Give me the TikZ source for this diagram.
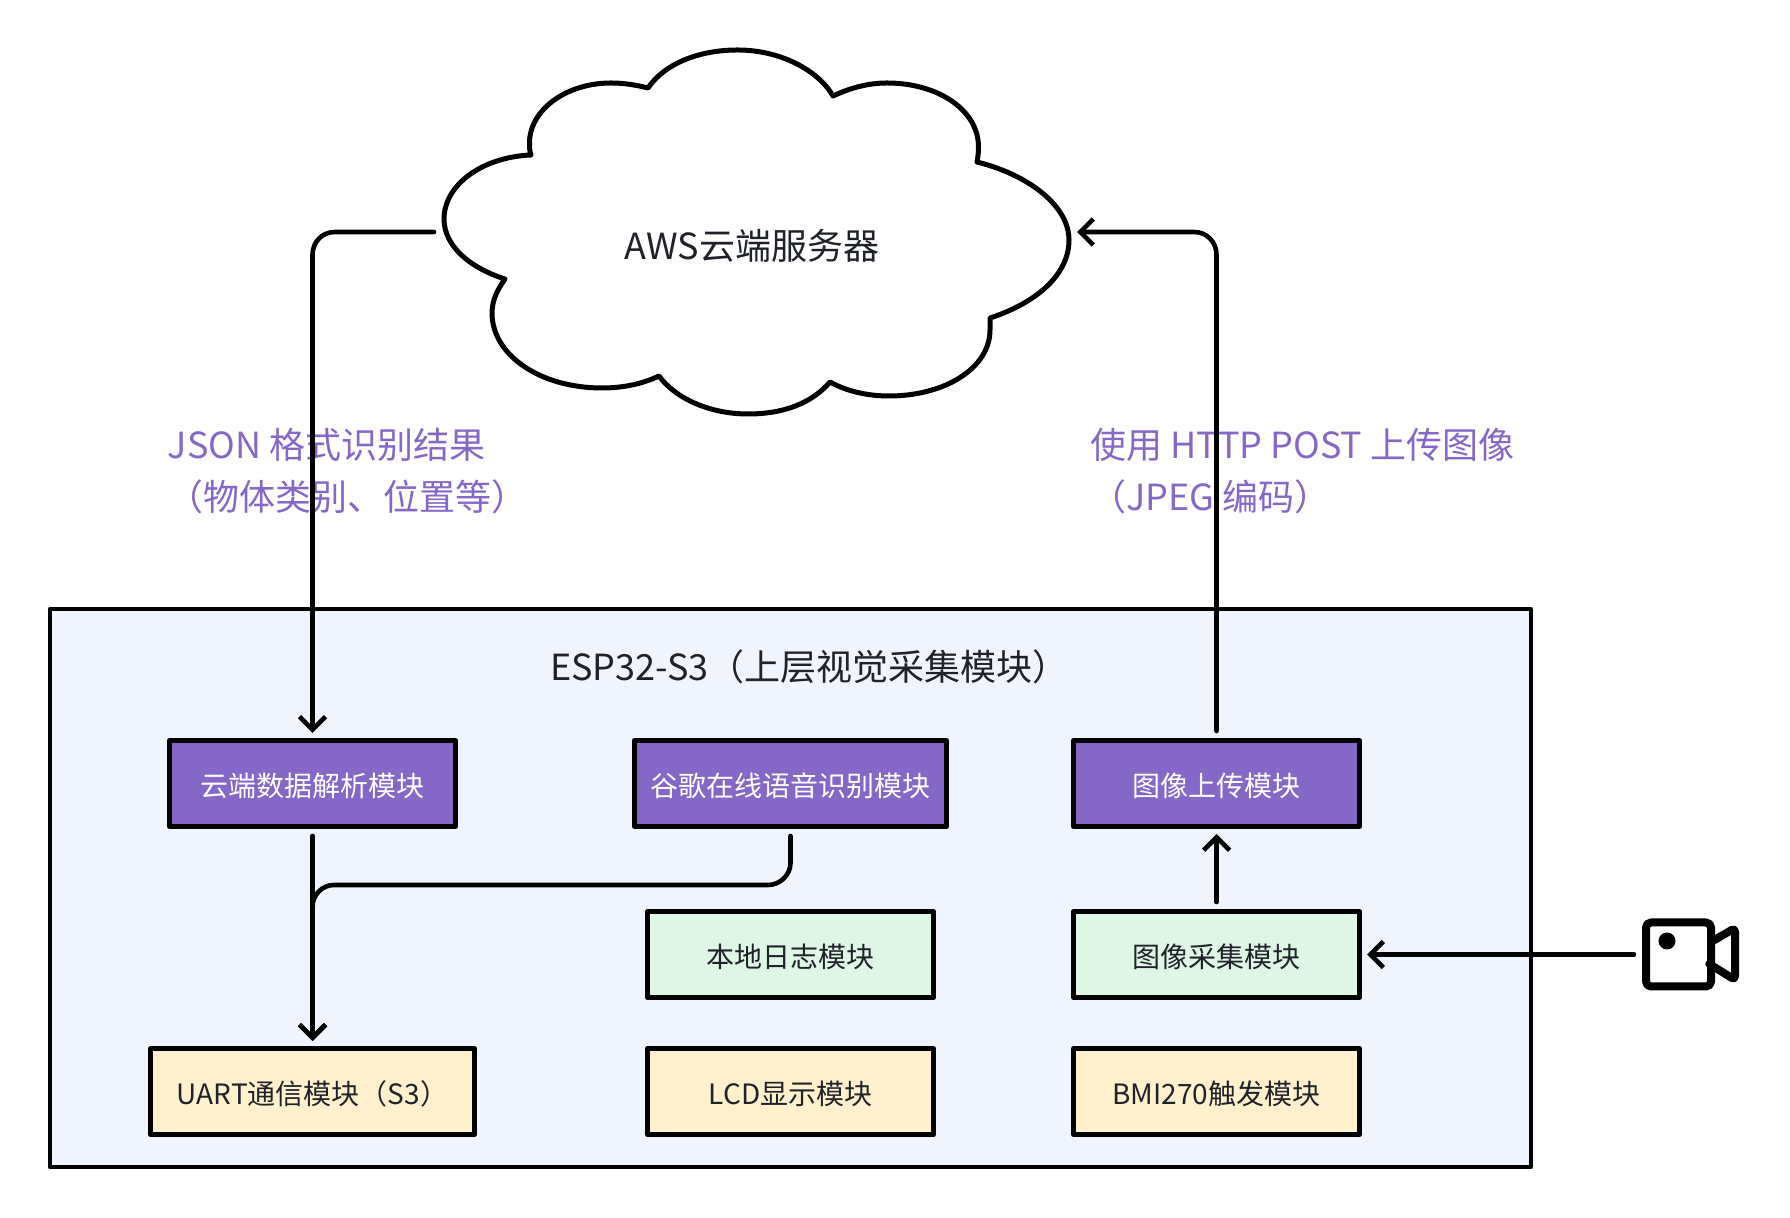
\documentclass[tikz,border=0pt]{standalone}
\usepackage{fontspec}
\setmainfont{Noto Sans CJK SC}
\usetikzlibrary{positioning,arrows.meta,shapes.geometric}
\definecolor{espbg}{HTML}{EFF4FD}
\definecolor{cloudpurple}{HTML}{8567C8}
\definecolor{localgreen}{HTML}{DFF5E6}
\definecolor{ioyellow}{HTML}{FFF1CE}
\definecolor{textdark}{HTML}{1F2329}
\tikzset{
  modulebox/.style={draw=black,line width=5bp,outer sep=9.5bp,inner sep=0pt,minimum height=86bp,text height=30bp,text depth=4.5bp,text=textdark,font=\fontsize{28bp}{34bp}\selectfont},
  purplebox/.style={modulebox,fill=cloudpurple,text=white},
  greenbox/.style={modulebox,fill=localgreen},
  yellowbox/.style={modulebox,fill=ioyellow},
  edgelabel/.style={text=cloudpurple,align=left,inner sep=0pt,anchor=west,font=\fontsize{36bp}{52bp}\selectfont},
  biglabel/.style={text=textdark,inner sep=0pt,font=\fontsize{36bp}{44bp}\selectfont},
}
\begin{document}
\begin{tikzpicture}[>={Straight Barb[length=13bp,width=26bp]},line join=round,line cap=round,line width=4.6bp,shorten >=-2bp]
\useasboundingbox (0bp,0bp) rectangle (1790bp,1218bp);
%%
\draw [black,fill=white,line width=5bp] (531bp,1063bp) ..controls (529.5bp,1067bp) and (529.5bp,1071bp) .. (529.5bp,1075bp)
  ..controls (529.5bp,1108bp) and (566bp,1135bp) .. (611bp,1135bp)
  ..controls (624bp,1135bp) and (636bp,1133bp) .. (648bp,1130bp)
  ..controls (665bp,1155bp) and (700bp,1168bp) .. (737.5bp,1168bp)
  ..controls (780bp,1168bp) and (818bp,1148bp) .. (833bp,1122bp)
  ..controls (850bp,1130bp) and (868bp,1135bp) .. (887bp,1135bp)
  ..controls (938bp,1135bp) and (978.5bp,1108bp) .. (978.5bp,1071bp)
  ..controls (978.5bp,1066bp) and (978bp,1061bp) .. (977bp,1056bp)
  ..controls (1029bp,1043bp) and (1069bp,1012bp) .. (1069bp,978bp)
  ..controls (1069bp,943bp) and (1036bp,915bp) .. (990bp,900bp)
  ..controls (990bp,896bp) and (990bp,892bp) .. (990bp,888bp)
  ..controls (990bp,850bp) and (945bp,822bp) .. (889bp,822bp)
  ..controls (867bp,822bp) and (846bp,827bp) .. (830bp,836bp)
  ..controls (812bp,815bp) and (784bp,804bp) .. (748bp,804bp)
  ..controls (709bp,804bp) and (675bp,820bp) .. (659bp,842bp)
  ..controls (642bp,834bp) and (623bp,830bp) .. (602bp,830bp)
  ..controls (540bp,830bp) and (492bp,863bp) .. (492bp,905bp)
  ..controls (492bp,917bp) and (497bp,928bp) .. (505bp,939bp)
  ..controls (470bp,950bp) and (444bp,972bp) .. (444bp,999bp)
  ..controls (444bp,1033bp) and (482bp,1061bp) .. (531bp,1063bp) -- cycle;
\node (cloud) at (752bp,972bp) [biglabel] {AWS云端服务器};
\coordinate (cloudout) at (434bp,986bp);
\coordinate (cloudin) at (1079bp,986bp);
%
\node (esp) at (790.5bp,330bp) [draw=black,fill=espbg,line width=4.6bp,minimum width=1481bp,minimum height=558bp,inner sep=0pt] {};
\node (esptitle) at (809.5bp,551bp) [biglabel] {ESP32-S3（上层视觉采集模块）};
\node (jsonlabel) at (165.5bp,747bp) [edgelabel] {JSON 格式识别结果\\（物体类别、位置等）};
\node (httplabel) at (1088bp,747bp) [edgelabel] {使用 HTTP POST 上传图像\\（JPEG 编码）};
%
\node (parse) at (312.5bp,434.5bp) [purplebox,minimum width=286bp] {云端数据解析模块};
\node (speech) at (790.5bp,434.5bp) [purplebox,minimum width=312bp] {谷歌在线语音识别模块};
\node (upload) at (1216.5bp,434.5bp) [purplebox,minimum width=286bp] {图像上传模块};
\node (log) at (790.5bp,263.5bp) [greenbox,minimum width=286bp] {本地日志模块};
\node (capture) at (1216.5bp,263.5bp) [greenbox,minimum width=286bp] {图像采集模块};
\node (uart) at (312.5bp,126.5bp) [yellowbox,minimum width=324bp] {UART通信模块（S3）};
\node (lcd) at (790.5bp,126.5bp) [yellowbox,minimum width=286bp] {LCD显示模块};
\node (bmi) at (1216.5bp,126.5bp) [yellowbox,minimum width=286bp] {BMI270触发模块};
%
\node (camera) at (1678.5bp,263.5bp) [draw=black,line width=8bp,rounded corners=5bp,minimum width=65bp,minimum height=64bp,inner sep=0pt] {};
\draw [black,line width=8bp,rounded corners=4bp] (1711bp,276bp) -- (1735bp,290bp) -- (1735bp,238bp) -- (1711bp,253bp);
\node (cameradot) at (1667bp,277bp) [fill=black,circle,minimum size=17bp,inner sep=0pt] {};
\coordinate (camout) at (1634bp,263.5bp);
%
\draw [black,->] (cloudout) -- (335bp,986bp) ..controls (322bp,986bp) and (312.5bp,976bp) .. (312.5bp,963bp) -- (parse);
\draw [black,->] (upload) -- (1216.5bp,963bp) ..controls (1216.5bp,976bp) and (1207bp,986bp) .. (1194bp,986bp) -- (cloudin);
\draw [black,->] (parse) -- (uart);
\draw [black,->] (speech) -- (790.5bp,355bp) ..controls (790.5bp,343bp) and (780bp,333bp) .. (768bp,333bp) -- (334bp,333bp) ..controls (322bp,333bp) and (312.5bp,323bp) .. (312.5bp,311bp) -- (uart);
\draw [black,->] (capture) -- (upload);
\draw [black,->] (camout) -- (capture);
%
\end{tikzpicture}
\end{document}
